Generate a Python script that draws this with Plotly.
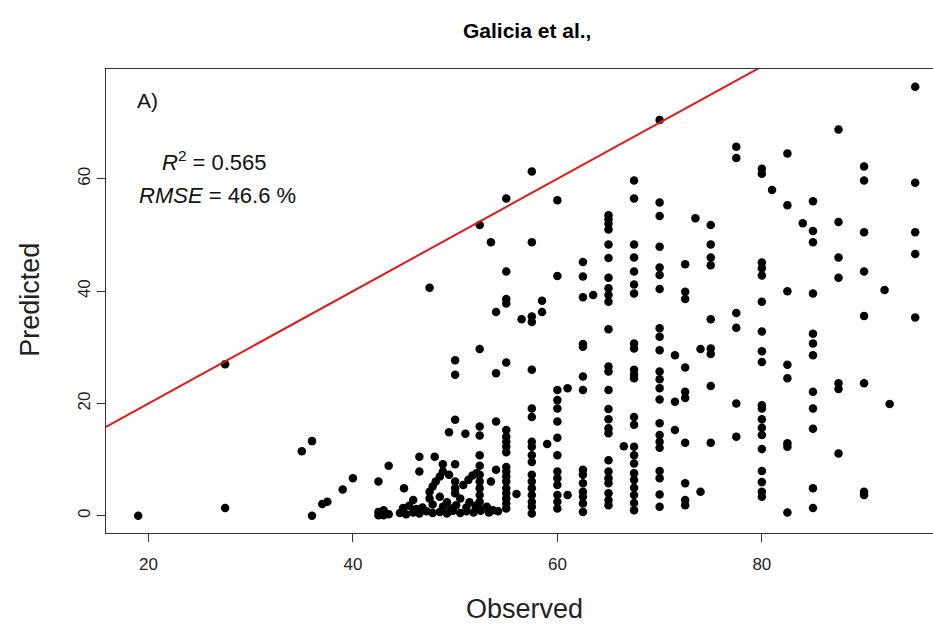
import plotly.graph_objects as go

# ---- scattered (non-column) points ----
obs_scatter = [19, 27.5, 27.5, 35, 36, 36, 37, 37.5, 39, 40, 42.5, 42.5, 42.5, 43, 43, 43.5, 43.5, 45,
               46.5, 46.5, 47.5, 48, 48.8, 50, 49.4, 50, 51, 52.4, 52.4, 54, 52.4, 52.4, 54, 53.5, 56,
               47.5, 47.8, 48.1, 48.5, 48.8, 49.4, 50, 50, 50, 50.8, 51.3, 51.7, 52.1, 53.1, 53.7,
               44.6, 45.2, 45.9, 46.5, 47.2, 47.8, 48.5, 49.2, 49.8, 50.5, 51.1, 51.8, 52.5, 53.3, 54.2,
               45.5, 46.8, 47.8, 48.8, 50.1, 51.1, 45.9, 47.5, 48.5, 49.2, 50.5, 51.4, 46.2, 49.6, 52.0, 44.9,
               50, 50, 52.4, 52.4, 53.5, 54, 54, 56.5, 58.5, 58.5, 59, 61, 61, 63.5, 66.5,
               71.5, 71.5, 71.5, 73.5, 74, 74, 81, 84, 92, 92.5]
pred_scatter = [0.0, 27.0, 1.4, 11.5, 13.3, 0.0, 2.1, 2.5, 4.7, 6.7, 6.1, 0.7, 0.1, 1.0, 0.1, 8.9, 0.3, 4.9,
                10.5, 7.9, 40.6, 10.5, 9.2, 9.2, 14.9, 17.1, 14.6, 15.9, 14.3, 16.8, 10.8, 8.9, 8.2, 6.1, 3.9,
                4.3, 5.2, 6.1, 7.0, 7.9, 7.3, 6.1, 4.9, 4.0, 5.5, 6.4, 7.2, 7.6, 1.6, 1.0,
                0.5, 0.3, 0.6, 0.4, 0.8, 0.5, 0.7, 0.4, 0.9, 0.5, 0.8, 0.6, 0.9, 0.6, 0.8,
                1.8, 1.5, 2.0, 1.6, 1.9, 1.5, 2.8, 3.1, 3.4, 2.4, 3.1, 2.4, 1.2, 1.3, 1.8, 1.4,
                27.7, 25.1, 29.7, 51.8, 48.7, 36.3, 25.4, 35.0, 38.3, 36.3, 12.8, 22.7, 3.7, 39.3, 12.4,
                28.6, 20.3, 15.3, 53.0, 29.7, 4.3, 58.0, 52.1, 40.2, 19.9]

# ---- points stacked in columns of equal observed value ----
column_obs = [52.4, 55, 57.5, 60, 62.5, 65, 67.5, 70, 72.5, 75, 77.5, 80, 82.5, 85, 87.5, 90, 95]
column_pred = [
    [7.3, 6.1, 4.9, 3.7, 2.5, 1.3],
    [56.5, 43.5, 38.6, 37.8, 27.3, 15.3, 14.1, 13.2, 12.3, 11.3, 8.7, 7.9, 7.0, 6.1, 4.9, 4.0, 3.1, 2.2, 1.3],
    [61.3, 48.7, 35.5, 34.5, 26.0, 19.1, 17.6, 13.2, 12.3, 10.8, 9.6, 7.3, 6.1, 4.9, 3.7, 2.5, 1.6, 0.4],
    [56.2, 42.7, 22.4, 20.6, 19.1, 16.8, 13.9, 10.8, 7.9, 6.7, 5.5, 3.7, 2.5, 1.3],
    [45.2, 42.6, 38.9, 30.6, 30.1, 24.8, 22.4, 8.2, 7.3, 5.8, 4.3, 3.4, 2.2, 0.7],
    [53.5, 52.8, 52.0, 51.0, 48.3, 45.9, 42.4, 40.5, 39.3, 38.1, 33.2, 26.6, 25.7, 22.4, 19.0, 17.2,
     15.6, 14.7, 9.9, 7.9, 6.7, 5.8, 4.0, 2.8, 1.9],
    [59.7, 56.5, 48.3, 46.0, 43.5, 41.2, 39.6, 30.7, 29.8, 26.0, 25.1, 24.5, 17.6, 16.2, 12.3, 10.8,
     9.3, 7.6, 6.4, 5.0, 3.7, 2.3, 1.0],
    [70.5, 55.8, 53.4, 47.9, 44.2, 42.9, 40.4, 33.4, 31.9, 29.5, 25.7, 24.3, 22.7, 20.7, 16.5, 14.4,
     13.2, 12.1, 8.0, 6.7, 3.8, 1.6],
    [44.8, 39.9, 38.6, 26.4, 22.1, 21.0, 13.0, 5.8, 2.8, 1.9],
    [51.8, 48.3, 46.0, 44.6, 35.0, 29.8, 28.8, 23.1, 13.0],
    [65.7, 63.7, 36.1, 33.5, 20.0, 14.1],
    [61.8, 60.9, 45.1, 44.1, 42.8, 38.1, 32.8, 29.3, 27.4, 19.7, 19.1, 17.2, 15.7, 14.4, 11.9, 8.0,
     6.0, 4.3, 3.4],
    [64.5, 55.3, 40.0, 26.9, 24.5, 12.9, 12.3, 0.6],
    [56.0, 50.7, 48.7, 39.6, 32.4, 30.7, 28.6, 22.1, 19.1, 15.5, 4.9, 1.4],
    [68.8, 52.3, 46.0, 42.4, 23.6, 22.6, 11.1],
    [62.2, 59.7, 50.5, 43.5, 35.6, 23.6, 4.3, 3.7],
    [76.4, 59.3, 50.5, 46.6, 35.3],
]

x_ticks = [20, 40, 60, 80]
y_ticks = [0, 20, 40, 60]
x_range = [15.85, 96.74]
y_range = [-3.06, 79.56]

observed = list(obs_scatter)
predicted = list(pred_scatter)
for xv, ys in zip(column_obs, column_pred):
    observed += [xv] * len(ys)
    predicted += ys

FONT = "Liberation Sans, Arial, sans-serif"

fig = go.Figure()
fig.add_trace(go.Scatter(
    x=observed, y=predicted, mode="markers",
    marker=dict(color="black", size=8.5, line=dict(width=0)),
    showlegend=False, hoverinfo="x+y"))
# 1:1 line
fig.add_trace(go.Scatter(
    x=x_range, y=x_range, mode="lines",
    line=dict(color="#e0191b", width=2), showlegend=False, hoverinfo="skip"))


def note(text, x, y, size, color="#111", angle=0):
    return dict(text=text, xref="paper", yref="paper", x=x, y=y,
                xanchor="center", yanchor="middle", textangle=angle,
                showarrow=False, font=dict(size=size, color=color))


fig.update_layout(
    width=933, height=625,
    margin=dict(l=106, r=0, t=69, b=92),
    paper_bgcolor="white", plot_bgcolor="white",
    font=dict(family=FONT, color="#222"),
    xaxis=dict(range=x_range, tickvals=x_ticks, ticks="outside", ticklen=8,
               tickcolor="#333", showgrid=False, zeroline=False,
               showline=True, linecolor="#333", linewidth=1, mirror=True,
               tickfont=dict(size=17, color="#222"), ticklabelstandoff=8),
    yaxis=dict(range=y_range, tickvals=y_ticks, ticks="outside", ticklen=8,
               tickcolor="#333", showgrid=False, zeroline=False,
               showline=True, linecolor="#333", linewidth=1,
               tickangle=-90, tickfont=dict(size=17, color="#222"), ticklabelstandoff=0),
    annotations=[
        note("<b>Galicia et al.,</b>", 0.509, 1.084, 21, "black"),
        note("Observed", 0.5065, -0.163, 27, "#222"),
        note("Predicted", -0.0923, 0.502, 27, "#222", angle=-90),
        note("A)", 0.0504, 0.933, 21),
        note("<i>R</i><sup>2</sup> = 0.565", 0.1313, 0.802, 22),
        note("<i>RMSE</i> = 46.6 %", 0.135, 0.727, 22),
    ],
)

fig.write_html("out.html")
